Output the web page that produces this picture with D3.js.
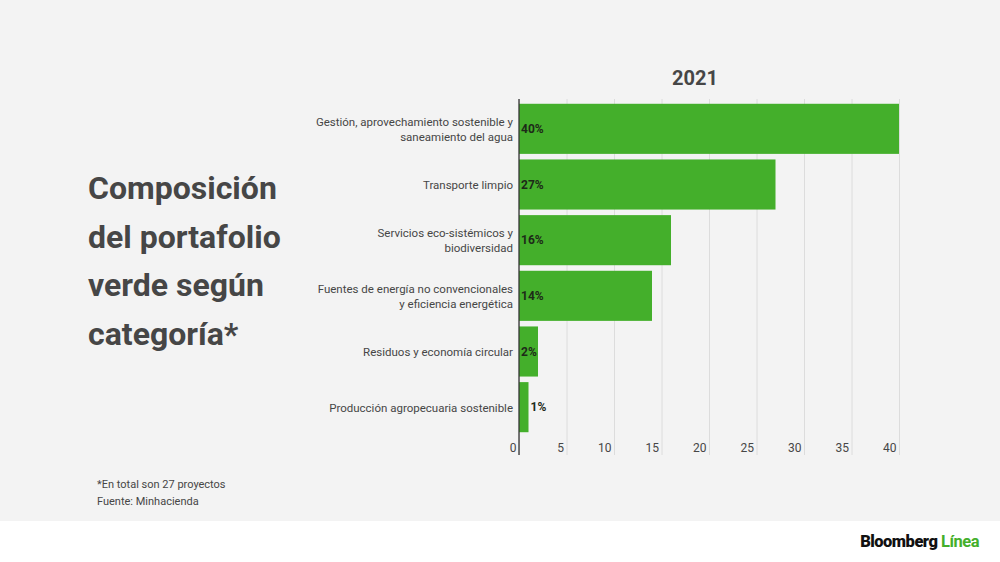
<!DOCTYPE html>
<html>
<head>
<meta charset="utf-8">
<script src="https://cdn.jsdelivr.net/npm/d3@7"></script>
<style>
  body { margin: 0; background: #fff; font-family: Roboto, "Noto Sans", sans-serif; }
  svg { display: block; }
</style>
</head>
<body>
<div id="graph"></div>
<script>
// data
var categories = [
    "Gestión, aprovechamiento sostenible y\nsaneamiento del agua",
    "Transporte limpio",
    "Servicios eco-sistémicos y\nbiodiversidad",
    "Fuentes de energía no convencionales\ny eficiencia energética",
    "Residuos y economía circular",
    "Producción agropecuaria sostenible"
];
var values = [40, 27, 16, 14, 2, 1];
var valueLabels = ["40%", "27%", "16%", "14%", "2%", "1%"];
var tickValues = [0, 5, 10, 15, 20, 25, 30, 35, 40];
var titleLines = ["Composición", "del portafolio", "verde según", "categoría*"];
var seriesName = "2021";
var notes = ["*En total son 27 proyectos", "Fuente: Minhacienda"];

var W = 1000, H = 562;
var textColor = "#464646";
var green = "#44af2b";

var svg = d3.select("#graph").append("svg")
    .attr("width", W)
    .attr("height", H);

// background panels
svg.append("rect").attr("width", W).attr("height", 521).attr("fill", "#f3f3f3");
svg.append("rect").attr("y", 521).attr("width", W).attr("height", H - 521).attr("fill", "#ffffff");

var x = d3.scaleLinear().domain([0, 40]).range([519, 899]);
var y = d3.scaleBand().domain(categories).range([101, 435])
    .paddingInner(0.1).paddingOuter(0.05);

var chartTop = 99, chartBottom = 455;

// gridlines + tick labels
var xAxis = d3.axisBottom(x)
    .tickValues(tickValues)
    .tickSize(-(chartBottom - chartTop))
    .tickFormat(d3.format("d"));

var gx = svg.append("g")
    .attr("transform", "translate(0," + chartBottom + ")")
    .call(xAxis);
gx.select(".domain").remove();
gx.selectAll(".tick line").attr("stroke", "#dcdcdc").attr("stroke-width", 1);
gx.selectAll(".tick text")
    .attr("text-anchor", "end")
    .attr("x", -3)
    .attr("y", -3)
    .attr("dy", 0)
    .attr("fill", textColor)
    .style("font-family", "Roboto")
    .style("font-size", "12px");

// bars
svg.selectAll(".bar")
    .data(values)
    .enter().append("rect")
    .attr("class", "bar")
    .attr("x", x(0))
    .attr("y", function(d, i) { return y(categories[i]); })
    .attr("width", function(d) { return x(d) - x(0); })
    .attr("height", y.bandwidth())
    .attr("fill", green);

// vertical axis line
svg.append("line")
    .attr("x1", x(0)).attr("x2", x(0))
    .attr("y1", chartTop).attr("y2", chartBottom)
    .attr("stroke", "#333").attr("stroke-width", 1.3);

// value labels
svg.selectAll(".val")
    .data(values)
    .enter().append("text")
    .attr("class", "val")
    .attr("x", function(d) { return d < 2 ? x(d) + 2 : x(0) + 2; })
    .attr("y", function(d, i) { return y(categories[i]) + y.bandwidth() / 2 + 4; })
    .attr("fill", "#1d2a18")
    .style("font-family", "Roboto")
    .style("font-weight", "bold")
    .style("font-size", "12px")
    .text(function(d, i) { return valueLabels[i]; });

// category labels
categories.forEach(function(c) {
    var lines = c.split("\n");
    var cy = y(c) + y.bandwidth() / 2;
    var lh = 15.5;
    var t = svg.append("text")
        .attr("text-anchor", "end")
        .attr("fill", textColor)
        .style("font-family", "Roboto")
        .style("font-size", "11.5px");
    lines.forEach(function(l, j) {
        t.append("tspan")
            .attr("x", 513)
            .attr("y", cy + 4.5 + (j - (lines.length - 1) / 2) * lh)
            .text(l);
    });
});

// series title
svg.append("text")
    .attr("x", 695).attr("y", 85)
    .attr("text-anchor", "middle")
    .attr("fill", textColor)
    .style("font-family", "Roboto")
    .style("font-weight", "bold")
    .style("font-size", "20px")
    .text(seriesName);

// left title
svg.append("g").selectAll("text")
    .data(titleLines)
    .enter().append("text")
    .attr("x", 88)
    .attr("y", function(d, i) { return 199 + i * 48.5; })
    .attr("fill", textColor)
    .style("font-family", "Roboto")
    .style("font-weight", "bold")
    .style("font-size", "32px")
    .text(function(d) { return d; });

// notes
svg.append("g").selectAll("text")
    .data(notes)
    .enter().append("text")
    .attr("x", 97)
    .attr("y", function(d, i) { return 488 + i * 16.5; })
    .attr("fill", textColor)
    .style("font-family", "Roboto")
    .style("font-size", "11px")
    .text(function(d) { return d; });

// logo
var logo = svg.append("text")
    .attr("x", 979).attr("y", 547)
    .attr("text-anchor", "end")
    .style("font-family", "Roboto")
    .style("font-weight", "900")
    .style("font-size", "16.5px")
    .style("letter-spacing", "-0.5px");
logo.append("tspan").attr("fill", "#111").text("Bloomberg ");
logo.append("tspan").attr("fill", green).style("font-weight", "bold").text("Línea");
</script>
</body>
</html>
